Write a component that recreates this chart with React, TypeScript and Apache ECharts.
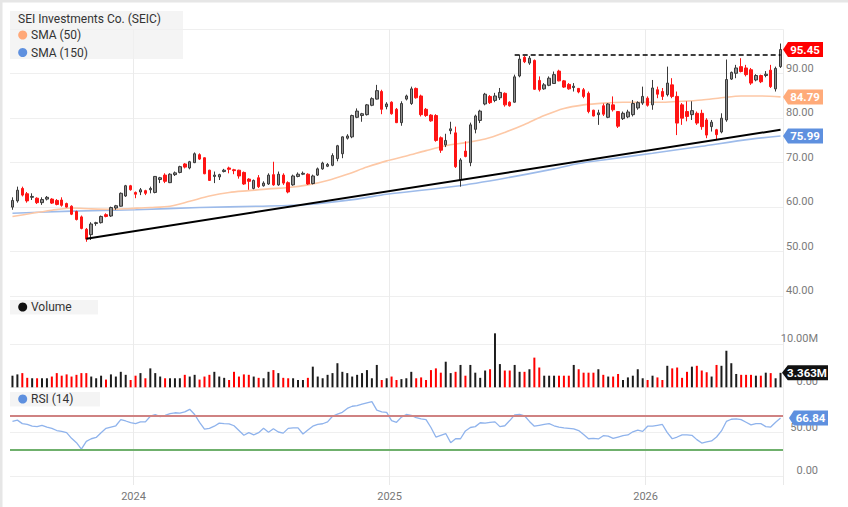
import React, { useEffect, useRef } from "react";
import * as echarts from "echarts";

// Weekly candles: [open, close, low, high]
const ohlc: number[][] = [
  [60.0, 61.5, 59.4, 62.2], [61.4, 63.8, 61.0, 64.6], [64.2, 62.7, 62.4, 64.6], [63.0, 61.4, 61.0, 63.4], [62.2, 62.4, 61.6, 63.1],
  [62.0, 61.0, 60.7, 62.2], [61.0, 61.7, 60.5, 62.2], [61.8, 62.2, 61.5, 62.5], [61.8, 60.9, 60.7, 62.0], [61.5, 60.6, 60.4, 61.8],
  [61.6, 60.4, 60.1, 62.2], [60.8, 60.0, 59.9, 61.0], [60.2, 58.4, 58.2, 60.4], [59.0, 57.2, 57.0, 59.2], [57.8, 55.2, 55.0, 58.1],
  [55.0, 52.8, 52.2, 55.3], [53.8, 56.2, 52.6, 56.6], [56.3, 56.5, 55.8, 56.7], [56.5, 57.9, 56.3, 58.1], [58.3, 57.9, 57.7, 58.6],
  [58.0, 59.9, 57.8, 60.1], [59.8, 60.3, 59.4, 60.5], [60.2, 63.1, 60.1, 63.3], [62.5, 64.8, 62.3, 65.0], [64.8, 63.9, 63.7, 65.0],
  [63.3, 62.9, 62.0, 63.5], [63.4, 63.9, 62.7, 64.3], [63.7, 63.1, 62.7, 63.9], [63.9, 64.2, 63.1, 64.6], [63.3, 66.9, 63.1, 67.0],
  [66.2, 66.6, 65.4, 66.8], [67.2, 65.8, 65.4, 67.6], [65.5, 67.4, 65.4, 67.6], [67.3, 67.7, 67.0, 68.0], [67.8, 69.1, 67.6, 69.3],
  [69.7, 69.0, 68.7, 69.9], [68.8, 70.2, 68.5, 70.4], [70.0, 72.0, 69.9, 72.3], [71.8, 70.8, 70.6, 72.1], [71.1, 67.5, 67.4, 71.2],
  [68.3, 66.0, 65.9, 68.4], [66.9, 67.2, 65.4, 68.0], [66.8, 67.3, 66.1, 67.5], [68.0, 68.3, 67.8, 68.6], [68.8, 68.5, 67.6, 69.1],
  [68.4, 68.2, 67.4, 68.6], [68.3, 67.0, 66.4, 68.4], [67.8, 65.2, 65.0, 68.0], [66.3, 65.8, 63.9, 66.5], [64.2, 66.0, 64.0, 66.2],
  [66.6, 64.6, 64.3, 67.2], [64.8, 65.4, 64.6, 65.8], [65.2, 67.2, 65.0, 67.6], [67.3, 65.0, 64.8, 70.2], [65.0, 67.4, 64.8, 68.0],
  [67.2, 65.4, 65.0, 67.6], [65.5, 63.4, 63.1, 65.8], [65.0, 67.0, 64.8, 67.3], [66.9, 67.4, 66.7, 67.8], [67.4, 67.6, 67.2, 68.0],
  [67.4, 65.2, 65.0, 67.6], [65.3, 67.0, 65.1, 67.3], [67.2, 68.6, 67.0, 68.9], [68.6, 69.9, 68.4, 70.2], [69.2, 69.6, 69.0, 69.9],
  [69.4, 71.6, 69.2, 72.1], [70.9, 73.8, 70.3, 74.0], [72.0, 75.8, 71.0, 75.9], [75.5, 76.0, 75.2, 76.4], [75.8, 80.6, 75.5, 80.8],
  [80.2, 81.6, 80.0, 82.2], [80.6, 81.0, 79.2, 81.2], [80.8, 83.0, 80.6, 83.2], [82.9, 84.4, 82.7, 84.7], [84.3, 86.2, 84.2, 87.5],
  [86.0, 82.0, 80.9, 86.4], [82.6, 83.2, 82.0, 83.6], [83.6, 81.0, 80.8, 83.8], [82.0, 79.0, 78.9, 82.3], [79.0, 83.3, 78.3, 83.8],
  [84.3, 85.0, 84.0, 85.3], [83.3, 86.6, 83.0, 87.1], [86.7, 84.6, 84.4, 86.9], [85.0, 80.8, 80.4, 85.3], [82.0, 80.6, 80.3, 82.3],
  [80.7, 79.4, 79.2, 80.9], [80.6, 75.0, 74.7, 80.9], [75.6, 72.8, 72.2, 75.9], [74.0, 75.0, 73.5, 76.5], [77.2, 77.6, 76.4, 79.2],
  [76.7, 69.1, 68.8, 78.1], [66.2, 70.6, 64.6, 71.0], [72.6, 71.4, 71.2, 74.8], [70.0, 78.5, 69.2, 79.0], [77.5, 80.5, 76.6, 80.8],
  [79.5, 81.6, 78.9, 81.9], [83.2, 85.4, 82.9, 85.7], [84.9, 83.5, 83.2, 85.2], [84.0, 85.0, 83.6, 85.7], [84.6, 85.8, 84.1, 86.8],
  [85.6, 83.0, 82.6, 85.8], [83.6, 82.8, 82.6, 83.8], [83.6, 89.3, 83.5, 89.8], [89.5, 93.3, 89.2, 94.2], [93.7, 92.7, 92.4, 94.0],
  [92.4, 93.5, 92.0, 94.0], [93.0, 86.5, 86.4, 93.2], [88.5, 86.4, 86.0, 89.4], [86.6, 87.5, 86.4, 87.9], [87.4, 89.0, 87.2, 89.4],
  [87.8, 89.8, 87.7, 90.5], [90.6, 88.4, 88.3, 90.9], [88.4, 87.0, 86.8, 88.6], [87.6, 86.6, 86.4, 87.9], [86.9, 87.2, 86.0, 87.9],
  [86.7, 85.9, 85.6, 86.8], [86.4, 84.9, 84.5, 86.8], [85.6, 81.5, 81.1, 86.0], [81.8, 80.5, 80.4, 81.9], [80.8, 81.2, 78.5, 81.9],
  [82.8, 80.9, 80.5, 83.3], [80.2, 83.2, 80.0, 83.4], [83.0, 81.9, 81.5, 84.9], [81.5, 78.2, 77.8, 81.6], [79.9, 81.1, 79.6, 81.5],
  [80.3, 81.4, 80.0, 81.9], [80.8, 83.3, 80.4, 84.1], [82.3, 83.5, 81.9, 83.8], [83.4, 84.9, 83.0, 87.1], [84.5, 82.9, 82.6, 84.9],
  [83.0, 86.8, 81.9, 88.6], [86.4, 85.4, 84.5, 87.1], [86.0, 84.9, 84.1, 86.8], [85.3, 87.9, 84.9, 91.6], [87.5, 84.9, 84.5, 89.0],
  [84.9, 78.9, 76.2, 86.0], [83.0, 80.0, 78.5, 83.4], [81.5, 80.4, 79.3, 83.8], [80.8, 81.7, 79.6, 83.8], [81.1, 78.9, 78.5, 81.5],
  [81.1, 78.1, 77.4, 81.9], [79.6, 76.2, 75.5, 80.0], [78.1, 79.1, 77.0, 79.6], [77.4, 76.3, 75.1, 77.6], [76.9, 80.0, 76.6, 81.1],
  [79.6, 88.7, 79.2, 93.2], [88.8, 90.3, 88.6, 90.5], [90.1, 91.3, 89.0, 92.0], [91.6, 90.5, 90.3, 93.5], [91.3, 89.8, 89.4, 92.0],
  [90.9, 87.9, 87.5, 91.3], [88.6, 89.6, 88.3, 89.9], [89.6, 88.2, 87.9, 89.8], [89.6, 89.9, 89.2, 90.6], [90.8, 87.1, 86.8, 92.0],
  [86.6, 91.2, 86.0, 91.6], [91.6, 95.45, 91.3, 96.8],
];

// Weekly volume, millions
const volumeM: number[] = [
  2.7, 3.0, 3.3, 2.2, 2.1, 2.1, 2.1, 2.1, 2.5, 3.3,
  2.7, 3.0, 2.5, 2.9, 3.3, 3.3, 2.5, 2.1, 2.7, 1.8,
  3.0, 2.5, 3.6, 2.9, 1.7, 2.7, 3.3, 2.1, 4.4, 3.3,
  2.5, 2.1, 2.1, 2.1, 2.1, 2.9, 2.5, 2.9, 1.8, 2.5,
  2.9, 3.6, 2.5, 2.2, 1.7, 3.6, 2.5, 3.0, 2.9, 2.5,
  2.2, 2.1, 3.6, 4.0, 3.3, 2.2, 2.1, 2.1, 1.7, 1.7,
  2.2, 4.8, 2.5, 2.1, 2.9, 3.3, 5.6, 3.6, 3.3, 2.5,
  2.9, 3.3, 4.0, 2.1, 5.2, 1.7, 2.1, 2.5, 1.7, 1.9,
  2.1, 3.6, 2.1, 2.3, 1.7, 4.0, 4.4, 3.4, 5.95, 3.3,
  3.6, 5.2, 2.7, 5.2, 3.4, 2.2, 3.9, 4.2, 12.55, 5.4,
  3.9, 3.9, 5.2, 3.6, 3.6, 4.2, 6.9, 4.6, 2.7, 2.7,
  2.7, 2.7, 2.7, 2.7, 5.2, 4.2, 3.4, 3.4, 3.4, 4.2,
  2.9, 2.5, 2.5, 3.1, 1.7, 2.3, 2.7, 4.2, 2.1, 1.7,
  2.7, 2.3, 1.7, 5.0, 4.4, 4.6, 2.2, 3.6, 4.8, 5.0,
  3.9, 3.5, 2.5, 5.2, 5.0, 8.5, 5.6, 3.1, 2.9, 2.9,
  2.9, 2.7, 2.7, 3.4, 3.3, 2.1, 3.363,
];

const rsi14: number[] = [
  63.0, 64.5, 60.5, 59.5, 57.5, 57.0, 58.5, 56.5, 55.0, 52.5,
  51.5, 50.0, 43.5, 38.5, 31.0, 40.0, 43.0, 44.5, 50.0, 55.0,
  56.5, 58.0, 65.0, 63.5, 61.5, 60.5, 62.5, 62.5, 69.0, 71.0,
  68.5, 70.0, 72.0, 73.0, 72.5, 74.0, 77.0, 71.0, 62.0, 54.0,
  55.0, 57.5, 61.0, 60.5, 60.2, 58.0, 52.5, 47.0, 50.0, 47.5,
  50.0, 55.0, 50.5, 54.5, 50.8, 49.5, 55.0, 55.5, 55.6, 48.5,
  53.0, 57.5, 59.5, 60.3, 62.5, 69.0, 71.5, 73.5, 78.0, 80.5,
  81.2, 83.0, 84.5, 85.9, 76.0, 74.0, 73.5, 64.0, 62.0, 68.0,
  71.0, 70.0, 67.5, 66.0, 65.0, 56.0, 45.0, 47.0, 49.0, 38.5,
  43.0, 43.0, 52.0, 56.0, 57.0, 61.5, 61.0, 62.0, 62.5, 57.0,
  58.0, 64.0, 70.5, 71.2, 69.5, 63.0, 57.5, 58.5, 59.5, 60.5,
  58.0, 56.5, 55.5, 55.0, 54.3, 52.5, 48.0, 43.0, 43.5, 42.8,
  46.5, 46.0, 43.5, 45.0, 46.5, 47.4, 51.0, 53.0, 51.5, 57.5,
  57.5, 58.5, 59.5, 50.0, 43.0, 45.0, 47.4, 47.4, 47.0, 42.0,
  38.0, 39.5, 40.5, 45.0, 52.0, 63.0, 65.5, 66.0, 65.0, 62.0,
  59.0, 60.5, 60.5, 57.0, 56.5, 62.0, 66.84,
];

// [week index, value]
const sma50Points: number[][] = [
  [0, 57.9], [4, 58.6], [8, 59.3], [12, 59.8], [16, 59.6], [20, 59.5], [24, 59.7], [28, 59.9], [32, 60.2], [36, 61.3],
  [40, 62.5], [44, 63.3], [48, 63.7], [52, 64.1], [56, 64.4], [60, 65.0], [64, 66.0], [68, 67.4], [72, 69.0], [76, 70.4],
  [80, 71.5], [84, 72.7], [88, 73.8], [92, 74.5], [96, 75.3], [100, 76.8], [104, 78.6], [108, 80.6], [112, 82.2], [116, 83.0],
  [120, 83.4], [124, 83.6], [128, 83.6], [132, 83.6], [136, 83.8], [140, 84.1], [144, 84.6], [148, 85.0], [152, 85.0], [156, 84.79],
];
const sma150Points: number[][] = [
  [0, 58.6], [12, 59.1], [25, 59.4], [38, 59.9], [50, 60.2], [60, 60.6], [70, 61.8], [76, 62.9], [90, 64.7],
  [100, 66.5], [110, 68.6], [115, 69.8], [120, 70.6], [130, 72.1], [140, 73.7], [150, 75.3], [156, 75.99],
];

const supportLine: number[][] = [[15, 52.9], [156, 77.4]];
const resistanceLine: number[][] = [[102, 94.2], [156, 94.2]];
const rsiLevels = [70, 30];
const yearLines = ["2024-01-01", "2024-12-30", "2025-12-29"];
const yearLabels = ["2024", "2025", "2026"];
const FIRST_WEEK = Date.UTC(2023, 6, 10);

const weeks: string[] = ohlc.map((_, i) =>
  new Date(FIRST_WEEK + i * 7 * 86400000).toISOString().slice(0, 10)
);

const GRID_LEFT = 10;
const GRID_W = 773;
const TAG_PATH = "path://M0,7.5L5,0L40,0L40,15L5,15Z";
const FONT = "Roboto, 'Noto Sans', sans-serif";

export default function App() {
  const ref = useRef<HTMLDivElement>(null);
  useEffect(() => {
    document.body.style.margin = "0";
    if (!ref.current) return;
    const chart = echarts.init(ref.current, undefined, { renderer: "svg" });
    const last = weeks.length - 1;
    const lastX = GRID_LEFT + ((last + 0.5) * GRID_W) / weeks.length;
    const isYear = (_i: number, v: string) => yearLines.indexOf(v) >= 0;

    const tag = (value: number, color: string, text: string, w: number, tip: number) => ({
      silent: true,
      symbol: TAG_PATH,
      symbolSize: [w, 15],
      symbolKeepAspect: false,
      symbolOffset: [tip - lastX + w / 2, 0],
      itemStyle: { color },
      label: {
        show: true,
        position: "inside",
        formatter: () => text,
        color: "#fff",
        fontWeight: "bold",
        fontSize: 11.5,
        fontFamily: FONT,
        offset: [2, 0],
      },
      data: [{ coord: [weeks[last], value] }],
    });

    const xAxisBase = (gridIndex: number, showLabels: boolean) => ({
      type: "category",
      gridIndex,
      data: weeks,
      boundaryGap: true,
      axisLine: { show: false },
      axisTick: {
        show: showLabels,
        interval: isYear,
        length: 9,
        lineStyle: { color: "#e9e9e9" },
      },
      axisLabel: {
        show: showLabels,
        interval: isYear,
        formatter: (v: string) => yearLabels[yearLines.indexOf(v)] || "",
        margin: 15,
        fontSize: 11,
        color: "#777",
        fontFamily: FONT,
        padding: [0, 4, 0, 0],
      },
      splitLine: { show: true, interval: isYear, lineStyle: { color: "#ebebeb", width: 1 } },
    });

    const labelStyle = { color: "#7b7b7b", fontSize: 11, fontFamily: FONT, verticalAlign: "bottom" };
    const gridColor = "#efefef";

    const lastClose = ohlc[last][1];
    const lastSma50 = sma50Points[sma50Points.length - 1][1];
    const lastSma150 = sma150Points[sma150Points.length - 1][1];
    const lastVol = volumeM[last];
    const lastRsi = rsi14[last];

    chart.setOption({
      animation: false,
      textStyle: { fontFamily: FONT },
      grid: [
        { left: GRID_LEFT, top: 29.3, width: GRID_W, height: 266.7 },
        { left: GRID_LEFT, top: 296, width: GRID_W, height: 91.3 },
        { left: GRID_LEFT, top: 387.3, width: GRID_W, height: 88.7 },
      ],
      xAxis: [xAxisBase(0, false), xAxisBase(1, false), xAxisBase(2, true)],
      yAxis: [
        {
          type: "value",
          gridIndex: 0,
          position: "right",
          min: 40,
          max: 100,
          interval: 10,
          axisLine: { show: false },
          axisTick: { show: false },
          axisLabel: { ...labelStyle, showMaxLabel: false, margin: 3, formatter: (v: number) => v.toFixed(2) },
          splitLine: { lineStyle: { color: gridColor } },
        },
        {
          type: "value",
          gridIndex: 1,
          position: "right",
          min: 0,
          max: 21.23,
          interval: 10,
          axisLine: { show: false },
          axisTick: { show: false },
          axisLabel: {
            ...labelStyle,
            align: "right",
            margin: 35,
            formatter: (v: number) => (v === 10 ? "10.00M" : v === 0 ? "0.00" : ""),
          },
          splitLine: {
            lineStyle: { color: [gridColor, gridColor, "rgba(0,0,0,0)", "rgba(0,0,0,0)"] },
          },
        },
        {
          type: "value",
          gridIndex: 2,
          position: "right",
          min: 0,
          max: 102.4,
          interval: 50,
          axisLine: { show: false },
          axisTick: { show: false },
          axisLabel: {
            ...labelStyle,
            align: "right",
            margin: 35,
            formatter: (v: number) => (v === 0 || v === 50 ? v.toFixed(2) : ""),
          },
          splitLine: {
            lineStyle: { color: [gridColor, gridColor, "rgba(0,0,0,0)", "rgba(0,0,0,0)"] },
          },
        },
      ],
      series: [
        {
          name: "SMA (150)",
          type: "line",
          xAxisIndex: 0,
          yAxisIndex: 0,
          data: sma150Points.map(([i, v]) => [weeks[i], v]),
          showSymbol: false,
          smooth: 0.3,
          lineStyle: { color: "#9dbbea", width: 1.6 },
          z: 1,
          markPoint: tag(lastSma150, "#5e90df", lastSma150.toFixed(2), 40, 783),
        },
        {
          name: "SMA (50)",
          type: "line",
          xAxisIndex: 0,
          yAxisIndex: 0,
          data: sma50Points.map(([i, v]) => [weeks[i], v]),
          showSymbol: false,
          smooth: 0.3,
          lineStyle: { color: "#fdc8a6", width: 1.6 },
          z: 1,
          markPoint: tag(lastSma50, "#ffab7a", lastSma50.toFixed(2), 40, 783),
        },
        {
          name: "SEIC",
          type: "candlestick",
          xAxisIndex: 0,
          yAxisIndex: 0,
          data: ohlc,
          barWidth: 3,
          itemStyle: {
            color: "#8e8e8e",
            color0: "#ff1414",
            borderColor: "#3a3a3a",
            borderColor0: "#ff1414",
            borderWidth: 1,
          },
          markLine: {
            silent: true,
            symbol: ["none", "none"],
            label: { show: false },
            lineStyle: { color: "#000", width: 2, type: "solid" },
            data: [
              [
                { coord: [weeks[supportLine[0][0]], supportLine[0][1]] },
                { coord: [weeks[supportLine[1][0]], supportLine[1][1]] },
              ],
              [
                {
                  coord: [weeks[resistanceLine[0][0]], resistanceLine[0][1]],
                  lineStyle: { color: "#000", width: 1.5, type: [5, 3] },
                },
                { coord: [weeks[resistanceLine[1][0]], resistanceLine[1][1]] },
              ],
            ],
          },
          markPoint: tag(lastClose, "#ff0000", lastClose.toFixed(2), 40, 783),
        },
        {
          name: "Volume",
          type: "bar",
          xAxisIndex: 1,
          yAxisIndex: 1,
          barWidth: 2,
          data: volumeM.map((v, i) => ({
            value: v,
            itemStyle: { color: ohlc[i][1] >= ohlc[i][0] ? "#1c1c1c" : "#ff0000" },
          })),
          markPoint: tag(lastVol, "#111111", lastVol.toFixed(3) + "M", 46, 782),
        },
        {
          name: "RSI (14)",
          type: "line",
          xAxisIndex: 2,
          yAxisIndex: 2,
          data: rsi14,
          showSymbol: false,
          lineStyle: { color: "#8fb3ec", width: 1.3 },
          markLine: {
            silent: true,
            symbol: ["none", "none"],
            label: { show: false },
            data: [
              { yAxis: rsiLevels[0], lineStyle: { color: "#cf8282", width: 2, type: "solid" } },
              { yAxis: rsiLevels[1], lineStyle: { color: "#6fb06c", width: 2, type: "solid" } },
            ],
          },
          markPoint: tag(lastRsi, "#5e90df", lastRsi.toFixed(2), 39, 789),
        },
      ],
      graphic: [
        { type: "rect", z: 100, shape: { x: 0, y: 0, width: 848, height: 2.5 }, style: { fill: "#e6e6e6" } },
        { type: "rect", z: 100, shape: { x: 0, y: 0, width: 2.5, height: 507 }, style: { fill: "#e6e6e6" } },
        { type: "rect", z: 100, shape: { x: 10, y: 11, width: 173, height: 48 }, style: { fill: "rgba(240,240,240,0.72)" } },
        { type: "text", z: 101, x: 18, y: 19, style: { text: "SEI Investments Co. (SEIC)", fill: "#333", font: `12px ${FONT}`, verticalAlign: "middle" } },
        { type: "circle", z: 101, shape: { cx: 22.7, cy: 35, r: 4.5 }, style: { fill: "#ffa878" } },
        { type: "text", z: 101, x: 31, y: 35, style: { text: "SMA (50)", fill: "#333", font: `12px ${FONT}`, verticalAlign: "middle" } },
        { type: "circle", z: 101, shape: { cx: 22.7, cy: 52.5, r: 4.5 }, style: { fill: "#5e90df" } },
        { type: "text", z: 101, x: 31, y: 52.5, style: { text: "SMA (150)", fill: "#333", font: `12px ${FONT}`, verticalAlign: "middle" } },
        { type: "rect", z: 100, shape: { x: 10, y: 300, width: 88, height: 14.5 }, style: { fill: "rgba(240,240,240,0.72)" } },
        { type: "circle", z: 101, shape: { cx: 22.7, cy: 307, r: 4.5 }, style: { fill: "#111" } },
        { type: "text", z: 101, x: 31, y: 307, style: { text: "Volume", fill: "#333", font: `12px ${FONT}`, verticalAlign: "middle" } },
        { type: "rect", z: 100, shape: { x: 10, y: 392, width: 90, height: 14.5 }, style: { fill: "rgba(240,240,240,0.72)" } },
        { type: "circle", z: 101, shape: { cx: 22.7, cy: 399, r: 4.5 }, style: { fill: "#5e90df" } },
        { type: "text", z: 101, x: 31, y: 399, style: { text: "RSI (14)", fill: "#333", font: `12px ${FONT}`, verticalAlign: "middle" } },
      ],
    });
    return () => chart.dispose();
  }, []);
  return <div ref={ref} style={{ width: 848, height: 507 }} />;
}
